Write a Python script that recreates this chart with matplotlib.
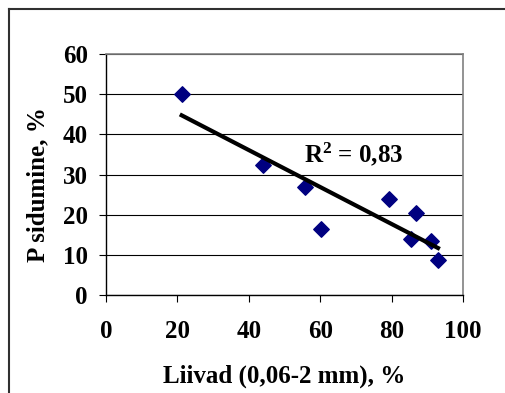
import numpy as np
import matplotlib.pyplot as plt
from matplotlib.lines import Line2D

# data
liivad = [21.2, 44.0, 55.7, 60.2, 79.4, 86.9, 85.4, 91.0, 93.0]
p_sidumine = [50.1, 32.5, 27.0, 16.6, 23.9, 20.4, 14.1, 13.6, 8.8]
x_ticks = [0, 20, 40, 60, 80, 100]
y_ticks = [0, 10, 20, 30, 40, 50, 60]
r2_label = "R$^{2}$ = 0,83"

plt.rcParams['font.family'] = 'Liberation Serif'
plt.rcParams['font.weight'] = 'bold'
plt.rcParams['mathtext.fontset'] = 'custom'
plt.rcParams['mathtext.rm'] = 'Liberation Serif:bold'
plt.rcParams['mathtext.default'] = 'rm'

fig = plt.figure(figsize=(5.05, 3.93), dpi=100)
ax = fig.add_axes([0.2099, 0.2486, 0.7069, 0.614])

# outer chart border, only left and top are visible
bx = 8.5 / 505
by = 1 - 8.5 / 393
fig.add_artist(Line2D([bx, bx], [0, by], transform=fig.transFigure,
                      color='#303030', linewidth=1.5))
fig.add_artist(Line2D([bx, 1.05], [by, by], transform=fig.transFigure,
                      color='#303030', linewidth=1.5))

ax.scatter(liivad, p_sidumine, marker='D', s=62, color='#000080', zorder=3)

# linear trendline
k, b = np.polyfit(liivad, p_sidumine, 1)
xs = np.array([min(liivad), max(liivad)])
ax.plot(xs, k * xs + b, color='black', linewidth=3, zorder=4)

ax.text(55.5, 33.0, r2_label, fontsize=18, fontweight='bold')

ax.set_xlim(0, 100)
ax.set_ylim(0, 60)
ax.set_xticks(x_ticks)
ax.set_yticks(y_ticks)
ax.yaxis.grid(True, color='black', linewidth=0.8)
ax.set_axisbelow(True)

for side in ['top', 'right']:
    ax.spines[side].set_color('#808080')
    ax.spines[side].set_linewidth(1.2)
for side in ['left', 'bottom']:
    ax.spines[side].set_color('black')
    ax.spines[side].set_linewidth(1.0)

ax.tick_params(axis='y', direction='out', length=5, pad=8, labelsize=18)
ax.tick_params(axis='x', direction='out', length=5, pad=13, labelsize=18)

ax.set_xlabel('Liivad (0,06-2 mm), %', fontsize=18, fontweight='bold', labelpad=15)
ax.set_ylabel('P sidumine, %', fontsize=18, fontweight='bold')
ax.yaxis.set_label_coords(-0.16, 0.46)

fig.savefig('out.png', dpi=100)
